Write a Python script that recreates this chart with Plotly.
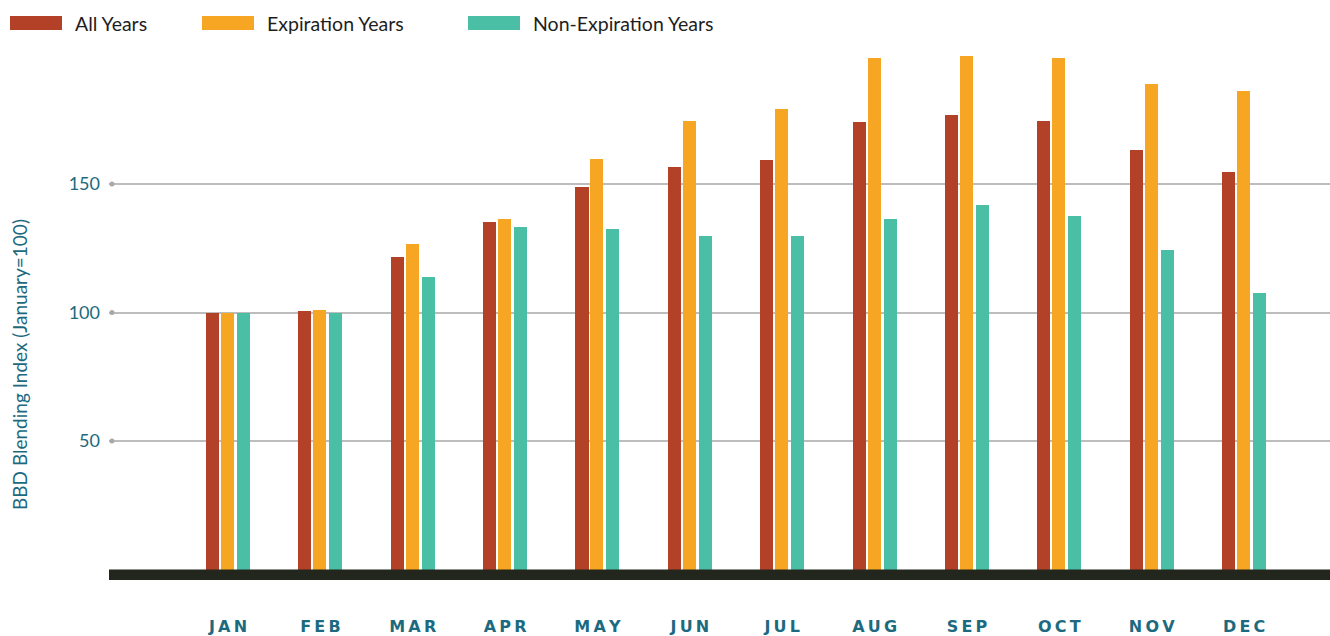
import plotly.graph_objects as go

# Monthly BBD blending index, January = 100
months = ["JAN", "FEB", "MAR", "APR", "MAY", "JUN", "JUL", "AUG", "SEP", "OCT", "NOV", "DEC"]
all_years = [100, 100.5, 121.6, 135.2, 148.8, 156.6, 159.3, 174.1, 176.9, 174.5, 163.2, 154.7]
expiration_years = [100, 101, 126.7, 136.4, 159.7, 174.5, 179.2, 199.0, 199.8, 199.0, 188.9, 186.2]
non_expiration_years = [100, 99.8, 113.8, 133.3, 132.5, 129.8, 129.8, 136.4, 141.8, 137.5, 124.3, 107.6]

series_names = ["All Years", "Expiration Years", "Non-Expiration Years"]
series_colors = ["#b34128", "#f6a623", "#4bbfa6"]
series_values = [all_years, expiration_years, non_expiration_years]
y_ticks = [50, 100, 150]

# figure geometry (pixels)
FIG_W, FIG_H = 1330, 636
L, R, T, B = 109, 0, 42, 54
PW = FIG_W - L - R
PH = FIG_H - T - B

TEXT_BLUE = "#1d6a80"


def paper_x(px):
    return (px - L) / PW


def paper_y(py):
    return (FIG_H - B - py) / PH


x_pos = list(range(len(months)))
bar_w = 0.141
offsets = [-0.238, -0.076, 0.097]

fig = go.Figure()
for name, color, vals, off in zip(series_names, series_colors, series_values, offsets):
    fig.add_trace(go.Bar(
        x=x_pos, y=vals, name=name, marker=dict(color=color, line=dict(width=0)),
        width=bar_w, offset=off, showlegend=False,
        hovertemplate="%{y}<extra>" + name + "</extra>",
    ))

# small dots at the left end of each gridline
fig.add_trace(go.Scatter(
    x=[-1.256] * len(y_ticks), y=y_ticks, mode="markers",
    marker=dict(color="#a9a9a9", size=5), cliponaxis=False,
    showlegend=False, hoverinfo="skip",
))

shapes = []
# heavy dark baseline under the bars
shapes.append(dict(type="rect", xref="paper", yref="y", x0=0, x1=1, y0=-4.1, y1=0,
                   fillcolor="#22261c", line=dict(width=0), layer="above"))

annotations = []
# custom legend: wide swatches followed by labels
legend_swatch_x = [10, 202, 468]
for name, color, sx in zip(series_names, series_colors, legend_swatch_x):
    shapes.append(dict(type="rect", xref="paper", yref="paper",
                       x0=paper_x(sx), x1=paper_x(sx + 52),
                       y0=paper_y(30), y1=paper_y(16),
                       fillcolor=color, line=dict(width=0)))
    annotations.append(dict(text=name, xref="paper", yref="paper",
                            x=paper_x(sx + 63), y=paper_y(23.5),
                            xanchor="left", yanchor="middle", showarrow=False,
                            font=dict(family="Lato", size=19.5, color="#1e1e1e")))

annotations.append(dict(text="BBD Blending Index (January=100)", textangle=-90,
                        xref="paper", yref="paper", x=paper_x(19), y=paper_y(365),
                        xanchor="center", yanchor="middle", showarrow=False,
                        font=dict(family="Lato", size=19, color=TEXT_BLUE)))

spaced = ["\u2009".join(m) for m in months]

fig.update_layout(
    width=FIG_W, height=FIG_H,
    margin=dict(l=L, r=R, t=T, b=B, autoexpand=False),
    plot_bgcolor="white", paper_bgcolor="white",
    shapes=shapes, annotations=annotations,
    xaxis=dict(range=[-1.288, 11.93], tickvals=x_pos, ticktext=spaced,
               showgrid=False, zeroline=False, showline=False, ticks="",
               ticklabelstandoff=33, automargin=False,
               tickfont=dict(family="DejaVu Sans", size=16, color=TEXT_BLUE, weight="bold")),
    yaxis=dict(range=[-4.86, 205.25], tickvals=y_ticks, showgrid=True,
               gridcolor="#bdbdbd", gridwidth=1.5, zeroline=False, showline=False,
               ticks="", ticklabelstandoff=8, automargin=False,
               tickfont=dict(family="Lato", size=18, color=TEXT_BLUE)),
    bargap=0,
)

fig.write_html("out.html")
